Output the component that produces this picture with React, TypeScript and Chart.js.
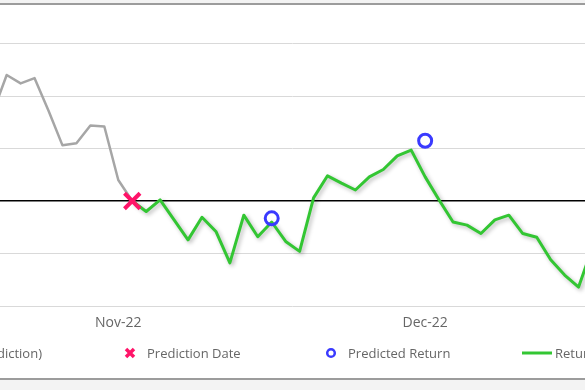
import React, { useEffect, useRef } from "react";
import { Chart, registerables } from "chart.js";

Chart.register(...registerables);

// Trading days shown (partially) in the chart
const tradeDates: string[] = [
  "2022-10-19", "2022-10-20", "2022-10-21", "2022-10-24", "2022-10-25", "2022-10-26",
  "2022-10-27", "2022-10-28", "2022-10-31",
  "2022-11-01", "2022-11-02", "2022-11-03", "2022-11-04", "2022-11-07", "2022-11-08",
  "2022-11-09", "2022-11-10", "2022-11-11", "2022-11-14", "2022-11-15", "2022-11-16",
  "2022-11-17", "2022-11-18", "2022-11-21", "2022-11-22", "2022-11-23", "2022-11-24",
  "2022-11-25", "2022-11-28", "2022-11-29", "2022-11-30",
  "2022-12-01", "2022-12-02", "2022-12-05", "2022-12-06", "2022-12-07", "2022-12-08",
  "2022-12-09", "2022-12-12", "2022-12-13", "2022-12-14", "2022-12-15", "2022-12-16",
  "2022-12-19",
];

// Return (%) before the prediction date
const priorReturn: (number | null)[] = [
  8.4, 12.0, 11.2, 11.7, 8.6, 5.3, 5.5, 7.2, 7.1, 2.0, 0.0,
  null, null, null, null, null, null, null, null, null, null, null, null, null, null,
  null, null, null, null, null, null, null, null, null, null, null, null, null, null,
  null, null, null, null, null,
];

// Return (%) after the prediction date
const postReturn: (number | null)[] = [
  null, null, null, null, null, null, null, null, null, null,
  0.0, -1.0, 0.1, -1.8, -3.7, -1.55, -2.9, -5.9, -1.35, -3.4, -2.0, -3.85, -4.8,
  0.3, 2.4, 1.7, 1.05, 2.3, 3.0, 4.3, 4.85,
  2.3, 0.1, -2.0, -2.3, -3.1, -1.8, -1.35, -3.1, -3.45, -5.6, -7.05, -8.2, -4.4,
];

// Prediction date marker
const predictionDate: (number | null)[] = tradeDates.map((d) => (d === "2022-11-02" ? 0.0 : null));

// Predicted return markers
const predictedReturnDates: string[] = ["2022-11-16", "2022-12-01"];
const predictedReturnValues: number[] = [-1.65, 5.74];

const monthNames = ["Jan", "Feb", "Mar", "Apr", "May", "Jun", "Jul", "Aug", "Sep", "Oct", "Nov", "Dec"];

const legendLabels = {
  prior: "Return (prior to prediction)",
  date: "Prediction Date",
  predicted: "Predicted Return",
  post: "Return (after prediction)",
};

const GREEN = "#33c633";
const GREY = "#a6a6a6";
const PINK = "#ff1469";
const BLUE = "#3a3aff";
const FONT = "'Open Sans', 'Noto Sans', sans-serif";

function toPoints(vals: (number | null)[]) {
  return vals.map((v, i) => ({ x: i, y: v }));
}

export default function App() {
  const ref = useRef<HTMLCanvasElement | null>(null);

  useEffect(() => {
    const canvas = ref.current;
    if (!canvas) return;

    const monthStarts: number[] = [];
    tradeDates.forEach((d, i) => {
      if (i > 0 && tradeDates[i - 1].slice(0, 7) !== d.slice(0, 7)) monthStarts.push(i);
    });

    const predictedPoints = predictedReturnDates.map((d, i) => ({
      x: tradeDates.indexOf(d),
      y: predictedReturnValues[i],
    }));

    const TOP = 9; // canvas is shifted up by this much in the window

    const shadowPlugin = {
      id: "lineShadow",
      beforeDatasetDraw(chart: any, args: any) {
        if (args.index === 3) {
          const c = chart.ctx;
          c.save();
          c.shadowColor = "rgba(0,0,0,0.28)";
          c.shadowBlur = 4;
          c.shadowOffsetX = 2;
          c.shadowOffsetY = 2;
        }
      },
      afterDatasetDraw(chart: any, args: any) {
        if (args.index === 3) chart.ctx.restore();
      },
    };

    const legendPlugin = {
      id: "customLegend",
      afterDraw(chart: any) {
        const c = chart.ctx as CanvasRenderingContext2D;
        const y = 353 + TOP;
        c.save();
        c.font = `13px ${FONT}`;
        c.fillStyle = "#666666";
        c.textBaseline = "middle";
        c.textAlign = "left";
        // prior return
        const w = c.measureText(legendLabels.prior).width;
        const s = 42 - w;
        c.strokeStyle = GREY;
        c.lineWidth = 3;
        c.beginPath();
        c.moveTo(s - 33, y);
        c.lineTo(s - 3, y);
        c.stroke();
        c.fillText(legendLabels.prior, s, y + 1);
        // prediction date
        c.strokeStyle = PINK;
        c.lineWidth = 3.5;
        c.beginPath();
        c.moveTo(126, y - 4);
        c.lineTo(134, y + 4);
        c.moveTo(134, y - 4);
        c.lineTo(126, y + 4);
        c.stroke();
        c.fillText(legendLabels.date, 147, y + 1);
        // predicted return
        c.strokeStyle = BLUE;
        c.lineWidth = 2.5;
        c.beginPath();
        c.arc(331, y, 3.8, 0, Math.PI * 2);
        c.stroke();
        c.fillText(legendLabels.predicted, 348, y + 1);
        // post return
        c.strokeStyle = GREEN;
        c.lineWidth = 3;
        c.beginPath();
        c.moveTo(522, y);
        c.lineTo(552, y);
        c.stroke();
        c.fillText(legendLabels.post, 555, y + 1);
        c.restore();
      },
    };

    const chart = new Chart(canvas, {
      type: "line",
      data: {
        datasets: [
          {
            label: legendLabels.date,
            data: toPoints(predictionDate),
            showLine: false,
            pointStyle: "crossRot",
            pointRadius: 11,
            pointBorderWidth: 4,
            borderColor: PINK,
            backgroundColor: PINK,
            order: 0,
          },
          {
            label: legendLabels.predicted,
            data: predictedPoints,
            showLine: false,
            pointStyle: "circle",
            pointRadius: 6.5,
            pointBorderWidth: 3,
            borderColor: BLUE,
            backgroundColor: "rgba(255,255,255,0)",
            order: 1,
          },
          {
            label: legendLabels.prior,
            data: toPoints(priorReturn),
            borderColor: GREY,
            borderWidth: 2.5,
            pointRadius: 0,
            tension: 0,
            borderJoinStyle: "round",
            order: 3,
          },
          {
            label: legendLabels.post,
            data: toPoints(postReturn),
            borderColor: GREEN,
            borderWidth: 3,
            pointRadius: 0,
            tension: 0,
            borderJoinStyle: "round",
            order: 2,
          },
        ],
      },
      options: {
        responsive: false,
        animation: false,
        events: [],
        layout: { autoPadding: false, padding: { left: 0, right: 0, top: 0, bottom: 45 } },
        plugins: { legend: { display: false }, tooltip: { enabled: false } },
        scales: {
          x: {
            type: "linear",
            min: 0.52,
            max: 42.46,
            grid: { display: false, drawTicks: false },
            border: { display: false },
            afterBuildTicks: (axis: any) => {
              axis.ticks = monthStarts.map((v) => ({ value: v }));
            },
            afterFit: (axis: any) => {
              axis.height = 26;
            },
            ticks: {
              autoSkip: false,
              maxRotation: 0,
              padding: 9,
              color: "#666666",
              font: { family: FONT, size: 14 },
              callback: (v: any) => {
                const d = tradeDates[Math.round(Number(v))];
                if (!d) return "";
                return `${monthNames[Number(d.slice(5, 7)) - 1]}-${d.slice(2, 4)}`;
              },
            },
          },
          y: {
            min: -10,
            max: 20,
            ticks: { display: false, stepSize: 5 },
            border: { display: false },
            afterFit: (axis: any) => {
              axis.width = 0;
            },
            grid: {
              drawTicks: false,
              lineWidth: (ctx: any) => (ctx.tick && ctx.tick.value === 0 ? 1.5 : 1),
              color: (ctx: any) => (ctx.tick && ctx.tick.value === 0 ? "#000000" : "#d9d9d9"),
            },
          },
        },
      },
      plugins: [shadowPlugin, legendPlugin],
    } as any);

    return () => chart.destroy();
  }, []);

  return (
    <div
      style={{
        position: "fixed",
        left: 0,
        top: 0,
        width: 585,
        height: 390,
        overflow: "hidden",
        background: "#f3f3f3",
      }}
    >
      <div
        style={{
          position: "absolute",
          left: 0,
          top: 3,
          width: 585,
          height: 377,
          boxSizing: "border-box",
          background: "#ffffff",
          borderTop: "2px solid #9c9c9c",
          borderBottom: "2px solid #9c9c9c",
        }}
      />
      <canvas
        ref={ref}
        width={585}
        height={386}
        style={{ position: "absolute", left: 0, top: -9, width: 585, height: 386 }}
      />
    </div>
  );
}
